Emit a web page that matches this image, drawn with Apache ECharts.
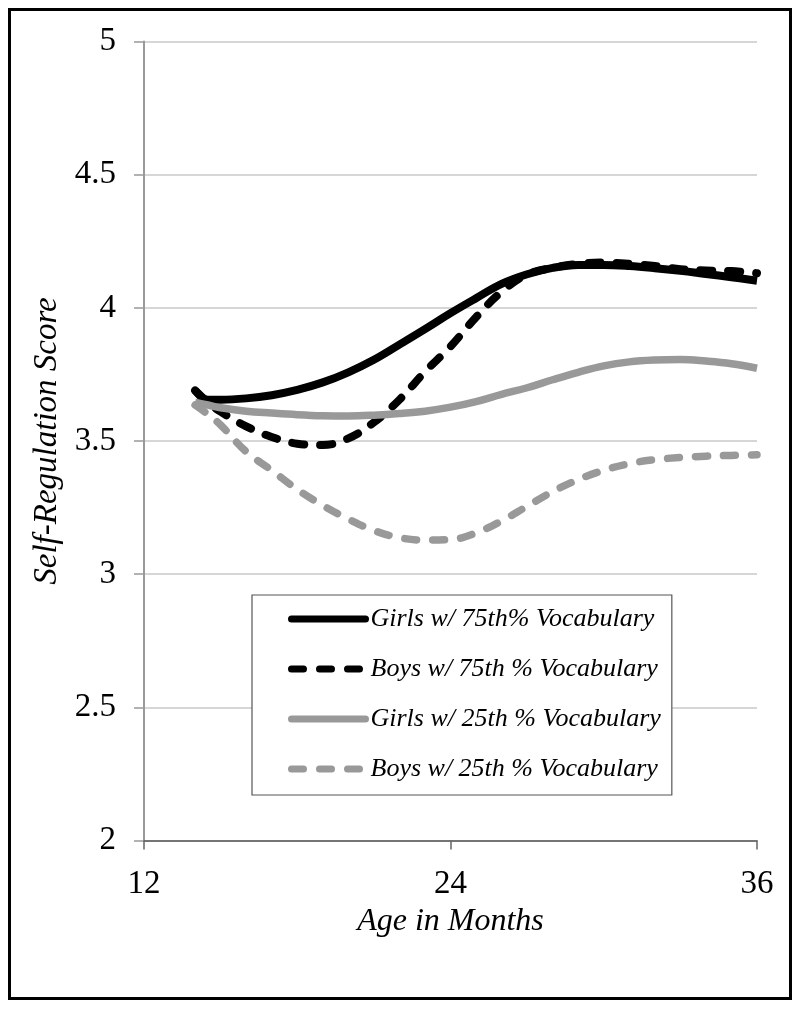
<!DOCTYPE html>
<html>
<head>
<meta charset="utf-8">
<script src="https://cdn.jsdelivr.net/npm/echarts@6/dist/echarts.min.js"></script>
<style>
html,body{margin:0;padding:0;background:#fff;}
#chart{width:800px;height:1009px;}
</style>
</head>
<body>
<div id="chart"></div>
<script>
const months = [14, 14.5, 15, 16, 17, 18, 19, 20, 21, 22, 23, 24, 25, 26, 27, 28, 29, 30, 31, 32, 33, 34, 35, 36];
const girls75 = [3.69, 3.655, 3.655, 3.66, 3.672, 3.692, 3.72, 3.758, 3.805, 3.862, 3.92, 3.98, 4.036, 4.09, 4.126, 4.15, 4.161, 4.161, 4.157, 4.149, 4.139, 4.127, 4.115, 4.102];
const boys75 = [3.69, 3.645, 3.61, 3.555, 3.515, 3.49, 3.485, 3.51, 3.57, 3.655, 3.76, 3.855, 3.965, 4.06, 4.125, 4.15, 4.165, 4.17, 4.165, 4.157, 4.145, 4.14, 4.138, 4.13];
const girls25 = [3.645, 3.635, 3.625, 3.612, 3.605, 3.599, 3.595, 3.594, 3.597, 3.603, 3.612, 3.627, 3.648, 3.675, 3.70, 3.73, 3.758, 3.782, 3.797, 3.804, 3.806, 3.80, 3.79, 3.773];
const boys25 = [3.635, 3.6, 3.56, 3.46, 3.39, 3.318, 3.258, 3.207, 3.164, 3.137, 3.128, 3.13, 3.155, 3.2, 3.255, 3.31, 3.355, 3.39, 3.415, 3.43, 3.438, 3.443, 3.446, 3.448];
const seriesNames = ['Girls w/ 75th% Vocabulary', 'Boys w/ 75th % Vocabulary', 'Girls w/ 25th % Vocabulary', 'Boys w/ 25th % Vocabulary'];
const xTicks = [12, 24, 36];
const yTicks = [2, 2.5, 3, 3.5, 4, 4.5, 5];

const FONT = 'Liberation Serif, Times New Roman, serif';
const pairs = arr => months.map((m, i) => [m, arr[i]]);

function mk(name, arr, color, dashed, width) {
  return {
    name: name,
    type: 'line',
    data: pairs(arr),
    smooth: 0.4,
    symbol: 'none',
    showSymbol: false,
    lineStyle: {
      color: color,
      width: width,
      type: dashed ? [12, 16] : 'solid',
      cap: dashed ? 'round' : 'butt',
      join: 'round'
    },
    itemStyle: { color: color },
    emphasis: { disabled: true }
  };
}

const chart = echarts.init(document.getElementById('chart'), null, { renderer: 'canvas' });
chart.setOption({
  animation: false,
  backgroundColor: '#fff',
  graphic: [{
    type: 'rect',
    shape: { x: 9.5, y: 9.5, width: 781, height: 989 },
    style: { fill: 'none', stroke: '#000', lineWidth: 3 },
    silent: true,
    z: 100
  }],
  grid: { left: 144, right: 43, top: 41.5, bottom: 168.5, containLabel: false },
  legend: {
    orient: 'vertical',
    left: 252,
    top: 595,
    padding: [10, 11, 12, 36],
    borderColor: '#555',
    borderWidth: 1.2,
    backgroundColor: '#fff',
    itemWidth: 74,
    itemHeight: 20,
    itemGap: 22,
    selectedMode: false,
    itemStyle: { opacity: 0 },
    lineStyle: { width: 7, cap: 'round' },
    textStyle: { fontFamily: FONT, fontStyle: 'italic', fontSize: 26, color: '#000', lineHeight: 28 },
    data: seriesNames
  },
  xAxis: {
    type: 'value',
    min: xTicks[0],
    max: xTicks[xTicks.length - 1],
    interval: 12,
    name: 'Age in Months',
    nameLocation: 'middle',
    nameGap: 64,
    nameTextStyle: { fontFamily: FONT, fontStyle: 'italic', fontSize: 32, color: '#000' },
    axisLine: { show: true, lineStyle: { color: '#555', width: 1.5 } },
    axisTick: { show: true, length: 9, lineStyle: { color: '#666', width: 1.5 } },
    axisLabel: { fontFamily: FONT, fontSize: 33, color: '#000', margin: 27 },
    splitLine: { show: false }
  },
  yAxis: {
    type: 'value',
    min: yTicks[0],
    max: yTicks[yTicks.length - 1],
    interval: 0.5,
    name: 'Self-Regulation Score',
    nameLocation: 'middle',
    nameGap: 76,
    nameTextStyle: { fontFamily: FONT, fontStyle: 'italic', fontSize: 33, color: '#000' },
    axisLine: { show: true, lineStyle: { color: '#999', width: 2 } },
    axisTick: { show: true, length: 10, lineStyle: { color: '#999', width: 1.5 } },
    axisLabel: { fontFamily: FONT, fontSize: 33, color: '#000', margin: 28 },
    splitLine: { show: true, lineStyle: { color: '#c8c8c8', width: 1.5 } }
  },
  series: [
    mk(seriesNames[0], girls75, '#000', false, 8),
    mk(seriesNames[1], boys75, '#000', true, 8),
    mk(seriesNames[2], girls25, '#999', false, 7.5),
    mk(seriesNames[3], boys25, '#999', true, 7.5)
  ]
});
</script>
</body>
</html>
